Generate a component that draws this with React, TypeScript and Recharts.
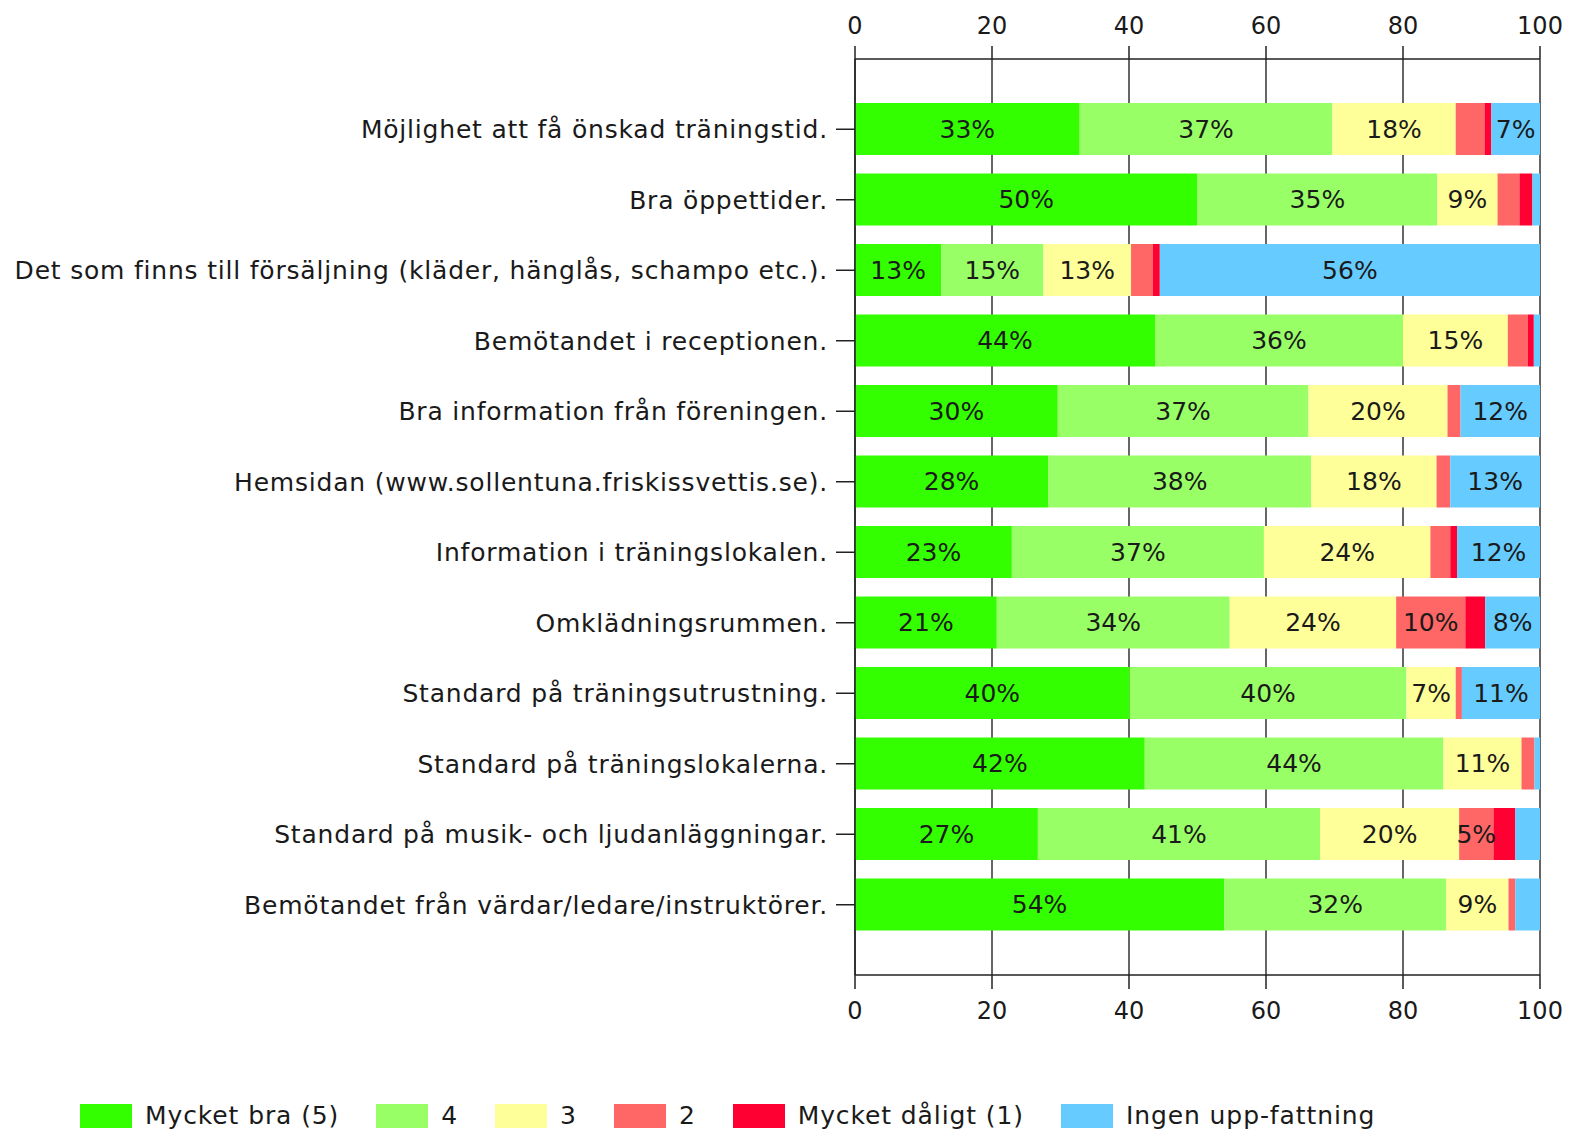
import { BarChart, Bar, XAxis, YAxis, CartesianGrid, LabelList } from "recharts";

const categories = [
  "Möjlighet att få önskad träningstid.",
  "Bra öppettider.",
  "Det som finns till försäljning (kläder, hänglås, schampo etc.).",
  "Bemötandet i receptionen.",
  "Bra information från föreningen.",
  "Hemsidan (www.sollentuna.friskissvettis.se).",
  "Information i träningslokalen.",
  "Omklädningsrummen.",
  "Standard på träningsutrustning.",
  "Standard på träningslokalerna.",
  "Standard på musik- och ljudanläggningar.",
  "Bemötandet från värdar/ledare/instruktörer.",
];

const mycketBra = [32.8, 50, 12.6, 43.8, 29.6, 28.2, 22.9, 20.7, 40.1, 42.3, 26.7, 53.9];
const fyra = [36.9, 35, 14.9, 36.2, 36.6, 38.4, 36.8, 34, 40.4, 43.6, 41.2, 32.4];
const tre = [18, 8.8, 12.8, 15.3, 20.3, 18.3, 24.3, 24.3, 7.2, 11.4, 20.3, 9.1];
const tva = [4.2, 3.2, 3.2, 2.9, 1.9, 2.0, 2.9, 10.1, 0.9, 1.9, 5.0, 1.0];
const mycketDaligt = [1, 1.9, 1, 0.9, 0, 0, 1, 2.9, 0, 0, 3.2, 0];
const ingen = [7.1, 1.1, 55.5, 0.9, 11.6, 13.1, 12.1, 8.0, 11.4, 0.8, 3.6, 3.6];

const xTicks = [0, 20, 40, 60, 80, 100];

const series = [
  { key: "s5", name: "Mycket bra (5)", values: mycketBra, color: "#33ff00" },
  { key: "s4", name: "4", values: fyra, color: "#99ff66" },
  { key: "s3", name: "3", values: tre, color: "#ffff99" },
  { key: "s2", name: "2", values: tva, color: "#ff6666" },
  { key: "s1", name: "Mycket dåligt (1)", values: mycketDaligt, color: "#ff0033" },
  { key: "s0", name: "Ingen upp-fattning", values: ingen, color: "#66ccff" },
];

const data = categories.map((name, i) => {
  const row: Record<string, string | number> = { name };
  series.forEach((s) => {
    row[s.key] = s.values[i];
  });
  return row;
});

const FONT = "'DejaVu Sans', Verdana, sans-serif";
const TEXT = "#1a1a1a";

const pct = (v: any) => {
  const r = Math.round(Number(v));
  return r >= 5 ? `${r}%` : "";
};

export default function App() {
  return (
    <div style={{ position: "absolute", left: 0, top: 0, width: 1571, height: 1131, background: "#fff", fontFamily: FONT }}>
      <BarChart
        width={1571}
        height={1131}
        data={data}
        layout="vertical"
        margin={{ top: 0, right: 31, bottom: 116, left: 0 }}
        barSize={52}
      >
        <CartesianGrid xAxisId="bottom" horizontal={false} stroke="#333" strokeWidth={1.5} />
        <XAxis
          xAxisId="top"
          orientation="top"
          type="number"
          domain={[0, 100]}
          allowDataOverflow
          ticks={xTicks}
          height={59}
          tickSize={13}
          tickMargin={12}
          stroke="#222"
          strokeWidth={1.5}
          tick={{ fill: TEXT, fontSize: 24, fontFamily: FONT }}
        />
        <XAxis
          xAxisId="bottom"
          orientation="bottom"
          type="number"
          domain={[0, 100]}
          allowDataOverflow
          ticks={xTicks}
          height={40}
          tickSize={14}
          tickMargin={13}
          stroke="#222"
          strokeWidth={1.5}
          tick={{ fill: TEXT, fontSize: 24, fontFamily: FONT }}
        />
        <YAxis
          type="category"
          dataKey="name"
          width={855}
          tickSize={19}
          tickMargin={8}
          padding={{ top: 35, bottom: 35 }}
          stroke="#222"
          strokeWidth={1.5}
          interval={0}
          tick={{ fill: TEXT, fontSize: 25, fontFamily: FONT, letterSpacing: 0.8 }}
        />
        {series.map((s) => (
          <Bar key={s.key} dataKey={s.key} name={s.name} stackId="a" xAxisId="bottom" fill={s.color} isAnimationActive={false}>
            <LabelList dataKey={s.key} position="center" formatter={pct} fill={TEXT} fontSize={25} fontFamily={FONT} />
          </Bar>
        ))}
      </BarChart>
      <div style={{ position: "absolute", left: 80, top: 1101, display: "flex", alignItems: "center", fontSize: 25, letterSpacing: 0.9, color: TEXT }}>
        {series.map((s) => (
          <div key={s.key} style={{ display: "flex", alignItems: "center", marginRight: 37 }}>
            <div style={{ width: 52, height: 24, background: s.color, marginRight: 13 }} />
            <span>{s.name}</span>
          </div>
        ))}
      </div>
    </div>
  );
}
